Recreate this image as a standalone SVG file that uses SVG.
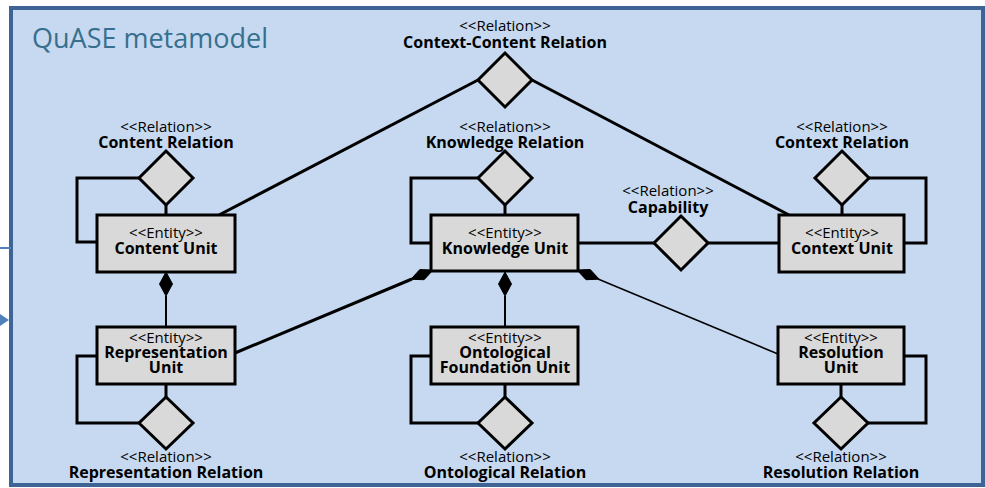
<svg xmlns="http://www.w3.org/2000/svg" width="985" height="488" viewBox="0 0 985 488">
<style>
.box{fill:#D9D9D9;stroke:#000;stroke-width:3}
.rel{fill:#D9D9D9;stroke:#000;stroke-width:3;stroke-linejoin:miter}
.c{fill:none;stroke:#000;stroke-width:3}
.t{fill:none;stroke:#000;stroke-width:1.5}
.lb{font-family:"Open Sans","Liberation Sans",sans-serif;fill:#000;text-anchor:middle}
.st{font-size:15px;font-weight:normal}
.nm{font-size:16px;font-weight:bold}
.comp{fill:#000;stroke:#000;stroke-width:1}
</style>
<rect x="0" y="0" width="985" height="488" fill="#FFFFFF"/>
<g id="frame">
<rect x="11" y="8" width="972" height="477" fill="#C6D9F1" stroke="#3E6496" stroke-width="4"/>
<text x="32" y="48" font-family="'Open Sans','Liberation Sans',sans-serif" font-size="27" fill="#36708E">QuASE metamodel</text>
</g>
<g id="external">
<line x1="0" y1="248" x2="11" y2="248" stroke="#4F81BD" stroke-width="2"/>
<polygon points="0,314 9,320 0,326" fill="#4F81BD"/>
</g>
<g id="connectors">
<polyline class="c" points="139,178 77,178 77,242 97,242"/>
<line class="c" x1="166" y1="205" x2="166" y2="215"/>
<polyline class="c" points="478,178 411,178 411,243 431,243"/>
<line class="c" x1="505" y1="205" x2="505" y2="215"/>
<polyline class="c" points="869,178 926,178 926,243 904,243"/>
<line class="c" x1="842" y1="205" x2="842" y2="215"/>
<polyline class="c" points="97,356 77,356 77,423 139,423"/>
<line class="c" x1="166" y1="384" x2="166" y2="397"/>
<polyline class="c" points="431,356 411,356 411,423 478,423"/>
<line class="c" x1="505" y1="384" x2="505" y2="397"/>
<polyline class="c" points="904,356 926,356 926,423 868,423"/>
<line class="c" x1="841" y1="384" x2="841" y2="397"/>
<line class="c" x1="478" y1="80" x2="219" y2="215"/>
<line class="c" x1="532" y1="80" x2="789" y2="215"/>
<line class="c" x1="578" y1="243" x2="654" y2="243"/>
<line class="c" x1="708" y1="243" x2="779" y2="243"/>
<line x1="166" y1="296" x2="166" y2="327" stroke="#000" stroke-width="2"/>
<polygon class="comp" points="166,272 172.5,284 166,296 159.5,284"/>
<line x1="505" y1="296" x2="505" y2="327" stroke="#000" stroke-width="2"/>
<polygon class="comp" points="505,272 511.5,284 505,296 498.5,284"/>
<line class="c" x1="412" y1="279" x2="235" y2="353"/>
<polygon class="comp" points="433,270 419.8,269.6 410.9,279.3 424.1,279.7"/>
<line class="t" x1="598" y1="279" x2="778" y2="354"/>
<polygon class="comp" points="577,270 590.2,269.5 599.2,279.2 586,279.7"/>
</g>
<g id="context-content-relation">
<polygon class="rel" points="505,53 532,80 505,107 478,80"/>
<text class="lb"><tspan class="st" x="505" y="31">&lt;&lt;Relation&gt;&gt;</tspan><tspan class="nm" x="505" y="48">Context-Content Relation</tspan></text>
</g>
<g id="content-relation">
<polygon class="rel" points="166,151 193,178 166,205 139,178"/>
<text class="lb"><tspan class="st" x="166" y="132">&lt;&lt;Relation&gt;&gt;</tspan><tspan class="nm" x="166" y="148">Content Relation</tspan></text>
</g>
<g id="knowledge-relation">
<polygon class="rel" points="505,151 532,178 505,205 478,178"/>
<text class="lb"><tspan class="st" x="505" y="132">&lt;&lt;Relation&gt;&gt;</tspan><tspan class="nm" x="505" y="148">Knowledge Relation</tspan></text>
</g>
<g id="context-relation">
<polygon class="rel" points="842,151 869,178 842,205 815,178"/>
<text class="lb"><tspan class="st" x="842" y="132">&lt;&lt;Relation&gt;&gt;</tspan><tspan class="nm" x="842" y="148">Context Relation</tspan></text>
</g>
<g id="capability">
<polygon class="rel" points="681,216 708,243 681,270 654,243"/>
<text class="lb"><tspan class="st" x="668" y="196">&lt;&lt;Relation&gt;&gt;</tspan><tspan class="nm" x="668" y="213">Capability</tspan></text>
</g>
<g id="content-unit">
<rect class="box" x="97" y="215" width="138" height="57"/>
<text class="lb"><tspan class="st" x="166" y="238">&lt;&lt;Entity&gt;&gt;</tspan><tspan class="nm" x="166" y="254">Content Unit</tspan></text>
</g>
<g id="knowledge-unit">
<rect class="box" x="431" y="215" width="147" height="56"/>
<text class="lb"><tspan class="st" x="505" y="238">&lt;&lt;Entity&gt;&gt;</tspan><tspan class="nm" x="505" y="254">Knowledge Unit</tspan></text>
</g>
<g id="context-unit">
<rect class="box" x="779" y="215" width="125" height="57"/>
<text class="lb"><tspan class="st" x="842" y="238">&lt;&lt;Entity&gt;&gt;</tspan><tspan class="nm" x="842" y="254">Context Unit</tspan></text>
</g>
<g id="representation-unit">
<rect class="box" x="97" y="327" width="138" height="57"/>
<text class="lb"><tspan class="st" x="166" y="343">&lt;&lt;Entity&gt;&gt;</tspan><tspan class="nm" x="166" y="358">Representation</tspan><tspan class="nm" x="166" y="373">Unit</tspan></text>
</g>
<g id="ontological-foundation-unit">
<rect class="box" x="431" y="327" width="147" height="57"/>
<text class="lb"><tspan class="st" x="505" y="343">&lt;&lt;Entity&gt;&gt;</tspan><tspan class="nm" x="505" y="358">Ontological</tspan><tspan class="nm" x="505" y="373">Foundation Unit</tspan></text>
</g>
<g id="resolution-unit">
<rect class="box" x="778" y="327" width="126" height="57"/>
<text class="lb"><tspan class="st" x="841" y="343">&lt;&lt;Entity&gt;&gt;</tspan><tspan class="nm" x="841" y="358">Resolution</tspan><tspan class="nm" x="841" y="373">Unit</tspan></text>
</g>
<g id="representation-relation">
<polygon class="rel" points="166,397 193,423 166,449 139,423"/>
<text class="lb"><tspan class="st" x="166" y="462">&lt;&lt;Relation&gt;&gt;</tspan><tspan class="nm" x="166" y="478">Representation Relation</tspan></text>
</g>
<g id="ontological-relation">
<polygon class="rel" points="505,397 532,423 505,449 478,423"/>
<text class="lb"><tspan class="st" x="505" y="462">&lt;&lt;Relation&gt;&gt;</tspan><tspan class="nm" x="505" y="478">Ontological Relation</tspan></text>
</g>
<g id="resolution-relation">
<polygon class="rel" points="841,397 868,423 841,449 814,423"/>
<text class="lb"><tspan class="st" x="841" y="462">&lt;&lt;Relation&gt;&gt;</tspan><tspan class="nm" x="841" y="478">Resolution Relation</tspan></text>
</g>
</svg>
